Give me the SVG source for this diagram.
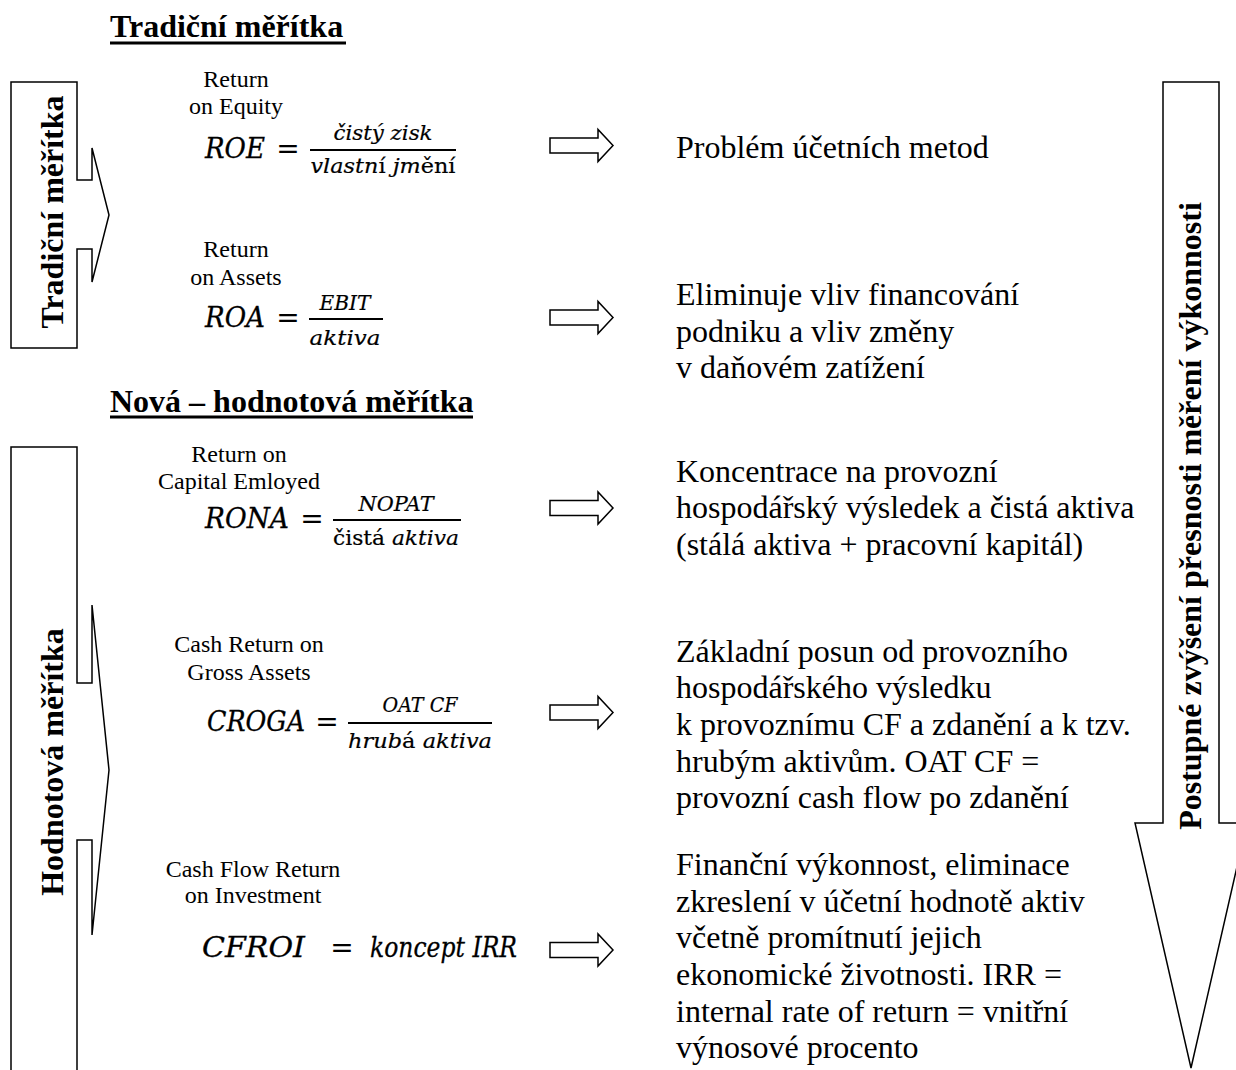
<svg xmlns="http://www.w3.org/2000/svg" width="1236" height="1070" viewBox="0 0 1236 1070">
<style>
.lbl{font-family:"Liberation Serif","Times New Roman",serif;font-size:24px;fill:#000;text-anchor:middle}
.body{font-family:"Liberation Serif","Times New Roman",serif;font-size:32px;fill:#000}
.title{font-family:"Liberation Serif","Times New Roman",serif;font-size:32px;font-weight:bold;fill:#000}
.vt{font-family:"Liberation Serif","Times New Roman",serif;font-size:32px;font-weight:bold;fill:#000;text-anchor:middle}
.m{font-family:"DejaVu Serif",serif;font-style:italic;font-size:28px;fill:#000;stroke:#000;stroke-width:0.3}
.f{font-family:"DejaVu Serif",serif;font-style:italic;font-size:20.5px;fill:#000;text-anchor:middle;stroke:#000;stroke-width:0.2}
.eq{font-family:"DejaVu Serif",serif;font-size:28px;fill:#000;text-anchor:middle}
.up{font-style:normal}
.shape{fill:#fff;stroke:#000;stroke-width:1.5;stroke-linejoin:miter}
.bar{fill:#000}
</style>
<defs>
<path id="harrow" d="M0,-7.5 H48 V-16 L63,0 L48,16 V7.5 H0 Z" fill="#fff" stroke="#000" stroke-width="1.5"/>
</defs>
<rect width="1236" height="1070" fill="#fff"/>

<g id="title-traditional">
<text class="title" x="110" y="37">Tradiční měřítka</text>
<rect class="bar" x="110" y="41.5" width="236" height="3"/>
</g>
<g id="title-new">
<text class="title" x="110" y="411.5">Nová – hodnotová měřítka</text>
<rect class="bar" x="110" y="415.5" width="363" height="3"/>
</g>

<g id="brace-traditional">
<path class="shape" d="M11,82 H77 V180 H92 V148 L109,215 L92,282 V249 H77 V348 H11 Z"/>
<text class="vt" transform="translate(63,212) rotate(-90)">Tradiční měřítka</text>
</g>

<g id="brace-value">
<path class="shape" d="M11,1080 V447 H77 V683 H92 V605 L109,770 L92,935 V840 H77 V1080"/>
<text class="vt" transform="translate(63,762) rotate(-90)">Hodnotová měřítka</text>
</g>

<g id="progress-arrow">
<path class="shape" d="M1163,82 H1219 V823 H1247 L1191,1068 L1135,823 H1163 Z"/>
<text class="vt" transform="translate(1201,516) rotate(-90)">Postupné zvýšení přesnosti měření výkonnosti</text>
</g>

<g id="roe">
<text class="lbl" x="236" y="87">Return</text>
<text class="lbl" x="236" y="114">on Equity</text>
<text class="m" x="205" y="158" textLength="60" lengthAdjust="spacingAndGlyphs">ROE</text>
<text class="eq" x="288" y="158">=</text>
<text class="f" x="383" y="140" textLength="99" lengthAdjust="spacingAndGlyphs">čistý zisk</text>
<rect class="bar" x="310" y="149" width="146" height="2"/>
<text class="f" x="383" y="173" textLength="145" lengthAdjust="spacingAndGlyphs">vlastn<tspan class="up">í</tspan> jm<tspan class="up">ění</tspan></text>
</g>

<g id="roa">
<text class="lbl" x="236" y="257">Return</text>
<text class="lbl" x="236" y="285">on Assets</text>
<text class="m" x="205" y="327" textLength="60" lengthAdjust="spacingAndGlyphs">ROA</text>
<text class="eq" x="288" y="327">=</text>
<text class="f" x="345" y="310" textLength="51" lengthAdjust="spacingAndGlyphs">EBIT</text>
<rect class="bar" x="309" y="318" width="74" height="2"/>
<text class="f" x="345" y="345" textLength="71" lengthAdjust="spacingAndGlyphs">aktiva</text>
</g>

<g id="rona">
<text class="lbl" x="239" y="462">Return on</text>
<text class="lbl" x="239" y="489">Capital Emloyed</text>
<text class="m" x="205" y="528" textLength="84" lengthAdjust="spacingAndGlyphs">RONA</text>
<text class="eq" x="312" y="528">=</text>
<text class="f" x="396" y="511" textLength="75" lengthAdjust="spacingAndGlyphs">NOPAT</text>
<rect class="bar" x="333" y="519" width="128" height="2"/>
<text class="f" x="396" y="545" textLength="126" lengthAdjust="spacingAndGlyphs"><tspan class="up">čistá</tspan> aktiva</text>
</g>

<g id="croga">
<text class="lbl" x="249" y="652">Cash Return on</text>
<text class="lbl" x="249" y="680">Gross Assets</text>
<text class="m" x="207" y="731" textLength="98" lengthAdjust="spacingAndGlyphs">CROGA</text>
<text class="eq" x="327" y="731">=</text>
<text class="f" x="420" y="712" textLength="75" lengthAdjust="spacingAndGlyphs">OAT CF</text>
<rect class="bar" x="348" y="722" width="144" height="2"/>
<text class="f" x="420" y="748" textLength="144" lengthAdjust="spacingAndGlyphs">hrub<tspan class="up">á</tspan> aktiva</text>
</g>

<g id="cfroi">
<text class="lbl" x="253" y="877">Cash Flow Return</text>
<text class="lbl" x="253" y="903">on Investment</text>
<text class="m" x="202" y="957" textLength="103" lengthAdjust="spacingAndGlyphs">CFROI</text>
<text class="eq" x="342" y="957">=</text>
<text class="m" x="370" y="957" textLength="147" lengthAdjust="spacingAndGlyphs">koncept IRR</text>
</g>

<g id="connectors">
<use href="#harrow" x="550" y="145.5"/>
<use href="#harrow" x="550" y="317.5"/>
<use href="#harrow" x="550" y="508"/>
<use href="#harrow" x="550" y="712.5"/>
<use href="#harrow" x="550" y="950"/>
</g>

<g id="desc-roe">
<text class="body" x="676" y="158">Problém účetních metod</text>
</g>
<g id="desc-roa">
<text class="body"><tspan x="676" y="305">Eliminuje vliv financování</tspan><tspan x="676" y="342">podniku a vliv změny</tspan><tspan x="676" y="378">v daňovém zatížení</tspan></text>
</g>
<g id="desc-rona">
<text class="body"><tspan x="676" y="482">Koncentrace na provozní</tspan><tspan x="676" y="518">hospodářský výsledek a čistá aktiva</tspan><tspan x="676" y="555">(stálá aktiva + pracovní kapitál)</tspan></text>
</g>
<g id="desc-croga">
<text class="body"><tspan x="676" y="662">Základní posun od provozního</tspan><tspan x="676" y="698">hospodářského výsledku</tspan><tspan x="676" y="735">k provoznímu CF a zdanění a k tzv.</tspan><tspan x="676" y="772">hrubým aktivům. OAT CF =</tspan><tspan x="676" y="808">provozní cash flow po zdanění</tspan></text>
</g>
<g id="desc-cfroi">
<text class="body"><tspan x="676" y="875">Finanční výkonnost, eliminace</tspan><tspan x="676" y="912">zkreslení v účetní hodnotě aktiv</tspan><tspan x="676" y="948">včetně promítnutí jejich</tspan><tspan x="676" y="985">ekonomické životnosti. IRR =</tspan><tspan x="676" y="1022">internal rate of return = vnitřní</tspan><tspan x="676" y="1058">výnosové procento</tspan></text>
</g>
</svg>
